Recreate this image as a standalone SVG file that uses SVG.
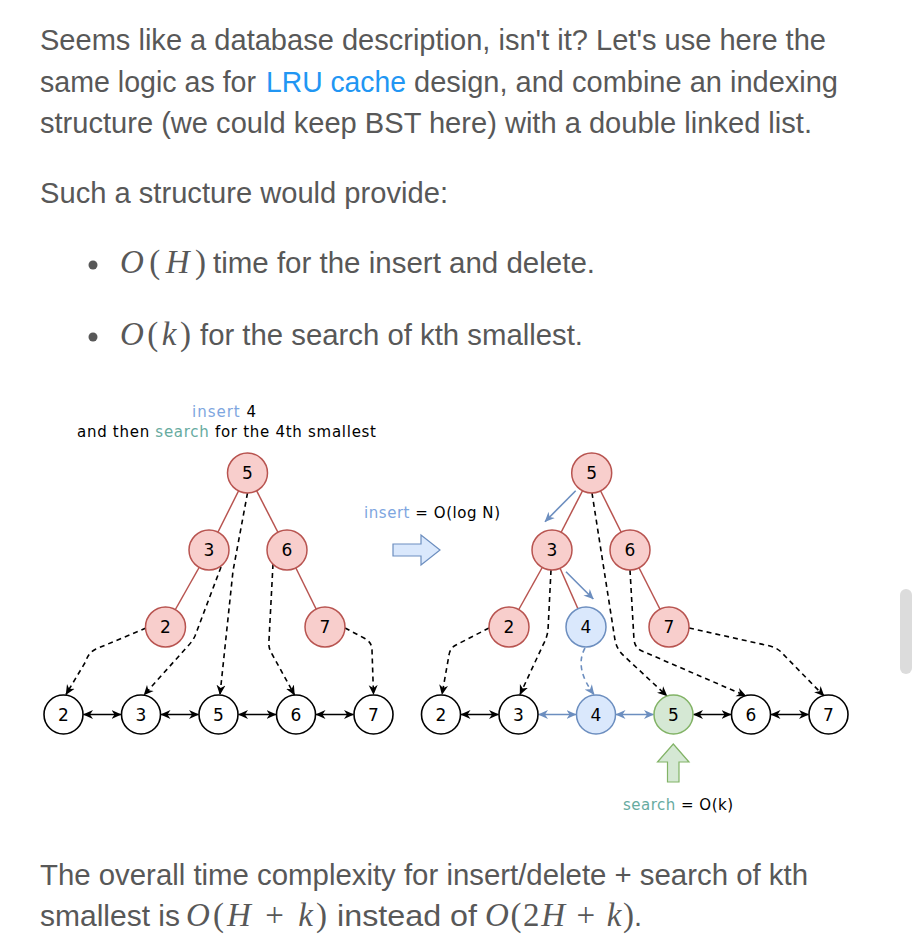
<svg xmlns="http://www.w3.org/2000/svg" width="918" height="946" viewBox="0 0 918 946">
<style>
.p{font-family:"Liberation Sans","Helvetica Neue",Arial,sans-serif;font-size:29px;fill:#585858}
.lnk{fill:#2196f3}
.m{font-family:"Liberation Serif","Times New Roman",serif;font-size:33px;fill:#585858}
.i{font-style:italic}
.lb{font-family:"DejaVu Sans","Comic Sans MS",sans-serif;font-size:15px;fill:#000}
.ins{fill:#7ea6e0}
.src{fill:#67ab9f}
.t{font-family:"DejaVu Sans","Comic Sans MS",sans-serif;font-size:17px;fill:#000;text-anchor:middle}
.red{fill:#f8cecc;stroke:#b85450;stroke-width:1.5}
.blu{fill:#dae8fc;stroke:#6c8ebf;stroke-width:1.5}
.grn{fill:#d5e8d4;stroke:#82b366;stroke-width:1.5}
.lst{fill:#fff;stroke:#000;stroke-width:1.6}
.edge{fill:none;stroke:#b85450;stroke-width:1.5}
.dash{fill:none;stroke:#000;stroke-width:1.6;stroke-dasharray:5 4;marker-end:url(#ab)}
.bdash{fill:none;stroke:#6c8ebf;stroke-width:1.6;stroke-dasharray:5 4;marker-end:url(#ablue)}
.dbl{fill:none;stroke:#000;stroke-width:1.6;marker-start:url(#ab);marker-end:url(#ab)}
.dblb{fill:none;stroke:#6c8ebf;stroke-width:1.6;marker-start:url(#ablue);marker-end:url(#ablue)}
.barr{fill:none;stroke:#6c8ebf;stroke-width:1.6;marker-end:url(#ablue)}
</style>
<defs>
<marker id="ab" viewBox="0 0 10 10" refX="9.5" refY="5" markerWidth="10" markerHeight="10" markerUnits="userSpaceOnUse" orient="auto-start-reverse">
<path d="M0,0.5 L10,5 L0,9.5 L3,5 z" fill="#000"/>
</marker>
<marker id="ablue" viewBox="0 0 10 10" refX="9.5" refY="5" markerWidth="10" markerHeight="10" markerUnits="userSpaceOnUse" orient="auto-start-reverse">
<path d="M0,0.5 L10,5 L0,9.5 L3,5 z" fill="#6c8ebf"/>
</marker>
</defs>
<rect width="918" height="946" fill="#fff"/>

<!-- prose -->
<g id="prose">
<text class="p" x="40" y="50" textLength="786" lengthAdjust="spacingAndGlyphs">Seems like a database description, isn't it? Let's use here the</text>
<text class="p" x="40" y="91.5" textLength="216" lengthAdjust="spacingAndGlyphs">same logic as for</text>
<text class="p lnk" x="266" y="91.5" textLength="140" lengthAdjust="spacingAndGlyphs">LRU cache</text>
<text class="p" x="414" y="91.5" textLength="424" lengthAdjust="spacingAndGlyphs">design, and combine an indexing</text>
<text class="p" x="40" y="133" textLength="772" lengthAdjust="spacingAndGlyphs">structure (we could keep BST here) with a double linked list.</text>
<text class="p" x="40" y="203" textLength="408" lengthAdjust="spacingAndGlyphs">Such a structure would provide:</text>
<circle cx="93" cy="265" r="4.5" fill="#585858"/>
<text class="m" x="120" y="273" textLength="86" lengthAdjust="spacing"><tspan class="i">O</tspan>(<tspan class="i">H</tspan>)</text>
<text class="p" x="213" y="273" textLength="382" lengthAdjust="spacingAndGlyphs">time for the insert and delete.</text>
<circle cx="93" cy="337" r="4.5" fill="#585858"/>
<text class="m" x="120" y="345" textLength="71" lengthAdjust="spacing"><tspan class="i">O</tspan>(<tspan class="i">k</tspan>)</text>
<text class="p" x="200" y="345" textLength="383" lengthAdjust="spacingAndGlyphs">for the search of kth smallest.</text>
<text class="p" x="40" y="885" textLength="768" lengthAdjust="spacingAndGlyphs">The overall time complexity for insert/delete + search of kth</text>
<text class="p" x="40" y="926" textLength="140" lengthAdjust="spacingAndGlyphs">smallest is</text>
<text class="m" x="186" y="926" textLength="141" lengthAdjust="spacing"><tspan class="i">O</tspan>(<tspan class="i">H</tspan> + <tspan class="i">k</tspan>)</text>
<text class="p" x="337" y="926" textLength="140" lengthAdjust="spacingAndGlyphs">instead of</text>
<text class="m" x="485" y="926" textLength="149" lengthAdjust="spacing"><tspan class="i">O</tspan>(2<tspan class="i">H</tspan> + <tspan class="i">k</tspan>)</text>
<text class="p" x="634" y="926">.</text>
</g>

<rect x="900" y="589" width="12" height="85" rx="6" fill="#dcdcdc"/>

<!-- labels -->
<g id="labels">
<text class="lb" x="192" y="417" textLength="64" lengthAdjust="spacing"><tspan class="ins">insert</tspan> 4</text>
<text class="lb" x="77" y="437" textLength="299" lengthAdjust="spacing">and then <tspan class="src">search</tspan> for the 4th smallest</text>
<text class="lb" x="364" y="518" textLength="136" lengthAdjust="spacing"><tspan class="ins">insert</tspan> = O(log N)</text>
<text class="lb" x="623" y="810" textLength="110" lengthAdjust="spacing"><tspan class="src">search</tspan> = O(k)</text>
</g>

<!-- connectors -->
<g id="connectors">
<line class="edge" x1="247.5" y1="473" x2="209" y2="550"/>
<line class="edge" x1="247.5" y1="473" x2="287" y2="550"/>
<line class="edge" x1="209" y1="550" x2="165.5" y2="627"/>
<line class="edge" x1="287" y1="550" x2="325" y2="627"/>
<path class="dash" d="M146,628 L96,649 Q88,653 86,661 L66,694.5"/>
<path class="dash" d="M221,567 L195,636 Q192,642 187,647 L144,695"/>
<path class="dash" d="M247.5,493 L233,571 L220,694.5"/>
<path class="dash" d="M273,564 L269,640 Q268,648 272,654 L294.5,695"/>
<path class="dash" d="M345,628 L364,638 Q372,642 372,650 L373.5,694.5"/>
<line class="dbl" x1="83.5" y1="714.5" x2="121" y2="714.5"/>
<line class="dbl" x1="161" y1="714.5" x2="198.5" y2="714.5"/>
<line class="dbl" x1="238.5" y1="714.5" x2="276" y2="714.5"/>
<line class="dbl" x1="316" y1="714.5" x2="353.5" y2="714.5"/>

<line class="edge" x1="591.7" y1="473" x2="552" y2="550"/>
<line class="edge" x1="591.7" y1="473" x2="630" y2="550"/>
<line class="edge" x1="552" y1="550" x2="509" y2="627"/>
<line class="edge" x1="552" y1="550" x2="586" y2="627"/>
<line class="edge" x1="630" y1="550" x2="669" y2="627"/>
<path class="dash" d="M489,628 L456,645 Q450,648 449,655 L442,694.5"/>
<path class="dash" d="M551,570 L548,630 Q547,638 543,645 L520,694.5"/>
<path class="dash" d="M592,493 L615,640 Q617,650 624,656 L667,696"/>
<path class="dash" d="M630,570 L634,640 Q635,648 642,651 L746,696"/>
<path class="dash" d="M689,628 L770,646 Q778,648 783,654 L824,696"/>
<path class="bdash" d="M585,648 Q574,668 594,694.5"/>
<line class="barr" x1="575.7" y1="490.7" x2="545" y2="521.7"/>
<line class="barr" x1="566" y1="571.7" x2="593.3" y2="599"/>
<line class="dbl" x1="461" y1="714.5" x2="498.5" y2="714.5"/>
<line class="dblb" x1="538.5" y1="714.5" x2="576" y2="714.5"/>
<line class="dblb" x1="616" y1="714.5" x2="653.5" y2="714.5"/>
<line class="dbl" x1="693.5" y1="714.5" x2="731" y2="714.5"/>
<line class="dbl" x1="771" y1="714.5" x2="808.5" y2="714.5"/>
</g>

<g id="insert-arrow">
<polygon points="393,544 421,544 421,535 440,550 421,565 421,556 393,556" fill="#dae8fc" stroke="#6c8ebf" stroke-width="1.2"/>
</g>
<g id="search-arrow">
<polygon points="673.3,744 689,762 679,762 679,782 667.5,782 667.5,762 657.5,762" fill="#d5e8d4" stroke="#82b366" stroke-width="1.2"/>
</g>

<g id="lt5"><circle class="red" cx="247.5" cy="473" r="20"/><text class="t" x="247.5" y="479">5</text></g>
<g id="lt3"><circle class="red" cx="209" cy="550" r="20"/><text class="t" x="209" y="556">3</text></g>
<g id="lt6"><circle class="red" cx="287" cy="550" r="20"/><text class="t" x="287" y="556">6</text></g>
<g id="lt2"><circle class="red" cx="165.5" cy="627" r="20"/><text class="t" x="165.5" y="633">2</text></g>
<g id="lt7"><circle class="red" cx="325" cy="627" r="20"/><text class="t" x="325" y="633">7</text></g>
<g id="ll2"><circle class="lst" cx="63.5" cy="714.5" r="19.5"/><text class="t" x="63.5" y="720.5">2</text></g>
<g id="ll3"><circle class="lst" cx="141" cy="714.5" r="19.5"/><text class="t" x="141" y="720.5">3</text></g>
<g id="ll5"><circle class="lst" cx="218.5" cy="714.5" r="19.5"/><text class="t" x="218.5" y="720.5">5</text></g>
<g id="ll6"><circle class="lst" cx="296" cy="714.5" r="19.5"/><text class="t" x="296" y="720.5">6</text></g>
<g id="ll7"><circle class="lst" cx="373.5" cy="714.5" r="19.5"/><text class="t" x="373.5" y="720.5">7</text></g>
<g id="rt5"><circle class="red" cx="591.7" cy="473" r="20"/><text class="t" x="591.7" y="479">5</text></g>
<g id="rt3"><circle class="red" cx="552" cy="550" r="20"/><text class="t" x="552" y="556">3</text></g>
<g id="rt6"><circle class="red" cx="630" cy="550" r="20"/><text class="t" x="630" y="556">6</text></g>
<g id="rt2"><circle class="red" cx="509" cy="627" r="20"/><text class="t" x="509" y="633">2</text></g>
<g id="rt4"><circle class="blu" cx="586" cy="627" r="20"/><text class="t" x="586" y="633">4</text></g>
<g id="rt7"><circle class="red" cx="669" cy="627" r="20"/><text class="t" x="669" y="633">7</text></g>
<g id="rl2"><circle class="lst" cx="441" cy="714.5" r="19.5"/><text class="t" x="441" y="720.5">2</text></g>
<g id="rl3"><circle class="lst" cx="518.5" cy="714.5" r="19.5"/><text class="t" x="518.5" y="720.5">3</text></g>
<g id="rl4"><circle class="blu" cx="596" cy="714.5" r="19.5"/><text class="t" x="596" y="720.5">4</text></g>
<g id="rl5"><circle class="grn" cx="673.5" cy="714.5" r="19.5"/><text class="t" x="673.5" y="720.5">5</text></g>
<g id="rl6"><circle class="lst" cx="751" cy="714.5" r="19.5"/><text class="t" x="751" y="720.5">6</text></g>
<g id="rl7"><circle class="lst" cx="828.5" cy="714.5" r="19.5"/><text class="t" x="828.5" y="720.5">7</text></g>
</svg>
